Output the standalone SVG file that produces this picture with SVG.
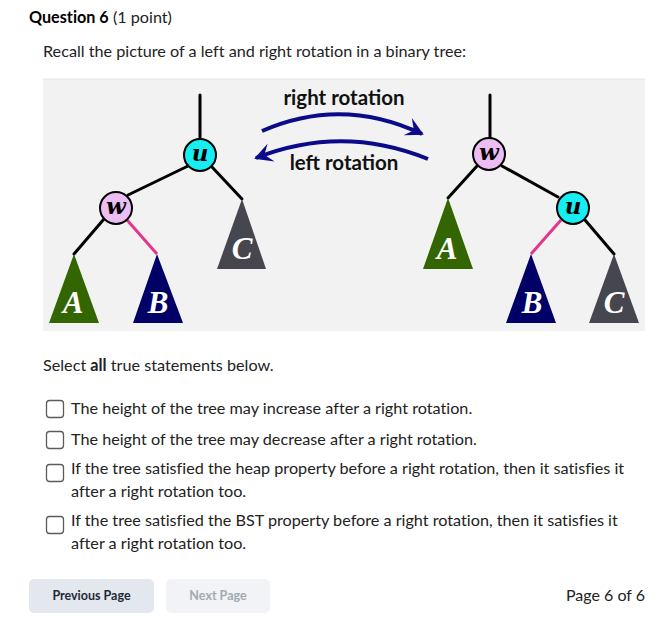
<svg xmlns="http://www.w3.org/2000/svg" width="663" height="634" viewBox="0 0 663 634">
<style>
.t{font-family:Lato,"Liberation Sans",sans-serif;fill:#222;font-size:16.2px;font-variant-ligatures:none}
.e{stroke:#000;stroke-width:3;fill:none;stroke-linecap:round}
.p{stroke:#e5358e;stroke-width:3;fill:none}
.c{stroke:#000;stroke-width:2}
.nl{font-family:"DejaVu Serif","Liberation Serif",serif;font-weight:bold;font-style:italic;font-size:23px;fill:#000;text-anchor:middle}
.tl{font-family:"Liberation Serif",serif;font-weight:bold;font-style:italic;font-size:31px;fill:#fff;text-anchor:middle}
.rl{font-family:Lato,"Liberation Sans",sans-serif;font-weight:bold;font-size:20.5px;fill:#111;text-anchor:middle}
.arr{stroke:#0b0b8a;stroke-width:4;fill:none}
.cb{fill:#fff;stroke:#5c5c5c;stroke-width:1.3}
</style>
<defs>
<marker id="ah" markerUnits="userSpaceOnUse" viewBox="-18 -11 22 22" refX="0" refY="0" markerWidth="22" markerHeight="22" orient="auto">
<path d="M2,0 L-16,-10 L-9,0 L-16,9 Z" fill="#0b0b8a"/>
</marker>
</defs>
<rect width="663" height="634" fill="#fff"/>
<text class="t" x="29" y="23"><tspan font-weight="bold" fill="#000">Question 6</tspan><tspan> (1 point)</tspan></text>
<text class="t" x="43" y="57">Recall the picture of a left and right rotation in a binary tree:</text>
<rect x="43" y="79" width="602" height="252" fill="#f2f2f2"/>
<line x1="43" y1="79" x2="645" y2="79" stroke="#e4e4e4" stroke-width="1"/>
<g id="connectors">
<line class="e" x1="200" y1="95" x2="200" y2="139"/>
<line class="e" x1="188" y1="166" x2="128" y2="195"/>
<line class="e" x1="212" y1="167" x2="242" y2="199"/>
<line class="e" x1="104" y1="219" x2="74" y2="254"/>
<line class="p" x1="127" y1="220" x2="157" y2="254"/>
<line class="e" x1="490" y1="95" x2="490" y2="138"/>
<line class="e" x1="477" y1="166" x2="448" y2="198"/>
<line class="e" x1="502" y1="166" x2="558" y2="197"/>
<line class="p" x1="561" y1="220" x2="531" y2="254"/>
<line class="e" x1="585" y1="220" x2="614" y2="254"/>
<path class="arr" d="M262,131 Q342,96 422,134" marker-end="url(#ah)"/>
<path class="arr" d="M428,159 Q342,124 256,158" marker-end="url(#ah)"/>
</g>
<text class="rl" x="344" y="105">right rotation</text>
<text class="rl" x="344" y="170">left rotation</text>
<g id="u-left"><circle class="c" cx="200" cy="155" r="16" fill="#16eef2"/><text class="nl" x="200" y="161">u</text></g>
<g id="w-left"><circle class="c" cx="116" cy="208" r="16" fill="#ecbdf2"/><text class="nl" x="116" y="214">w</text></g>
<g id="A-left"><polygon points="74,254 49,323 99,323" fill="#336600"/><text class="tl" x="73" y="313">A</text></g>
<g id="B-left"><polygon points="157,254 133,323 183,323" fill="#000066"/><text class="tl" x="158" y="313">B</text></g>
<g id="C-left"><polygon points="242,199 217,269 266,269" fill="#46464f"/><text class="tl" x="242" y="259">C</text></g>
<g id="w-right"><circle class="c" cx="489" cy="154" r="16" fill="#ecbdf2"/><text class="nl" x="489" y="160">w</text></g>
<g id="u-right"><circle class="c" cx="573" cy="208" r="16" fill="#16eef2"/><text class="nl" x="573" y="214">u</text></g>
<g id="A-right"><polygon points="448,198 423,269 473,269" fill="#336600"/><text class="tl" x="447" y="259">A</text></g>
<g id="B-right"><polygon points="531,254 506,323 556,323" fill="#000066"/><text class="tl" x="532" y="313">B</text></g>
<g id="C-right"><polygon points="614,254 589,323 639,323" fill="#46464f"/><text class="tl" x="614" y="313">C</text></g>
<text class="t" x="43" y="371">Select <tspan font-weight="bold">all</tspan> true statements below.</text>
<rect class="cb" x="46.5" y="400.5" width="17" height="17" rx="3"/>
<text class="t" x="71" y="414">The height of the tree may increase after a right rotation.</text>
<rect class="cb" x="46.5" y="431.5" width="17" height="17" rx="3"/>
<text class="t" x="71" y="445">The height of the tree may decrease after a right rotation.</text>
<rect class="cb" x="46.5" y="464.5" width="17" height="17" rx="3"/>
<text class="t" x="71" y="474">If the tree satisfied the heap property before a right rotation, then it satisfies it</text>
<text class="t" x="71" y="497">after a right rotation too.</text>
<rect class="cb" x="46.5" y="516.5" width="17" height="17" rx="3"/>
<text class="t" x="71" y="526">If the tree satisfied the BST property before a right rotation, then it satisfies it</text>
<text class="t" x="71" y="549">after a right rotation too.</text>
<rect x="29" y="579" width="125" height="34" rx="5" fill="#e3e8ef"/>
<text x="91.5" y="600" font-family="Lato,'Liberation Sans',sans-serif" font-weight="bold" font-size="12.5" fill="#1e2a36" text-anchor="middle">Previous Page</text>
<rect x="166" y="579" width="104" height="34" rx="5" fill="#f1f3f7"/>
<text x="218" y="600" font-family="Lato,'Liberation Sans',sans-serif" font-weight="bold" font-size="12.5" fill="#a3aab2" text-anchor="middle">Next Page</text>
<text x="645" y="601" font-family="Lato,'Liberation Sans',sans-serif" font-size="16" fill="#222" text-anchor="end">Page 6 of 6</text>
</svg>
